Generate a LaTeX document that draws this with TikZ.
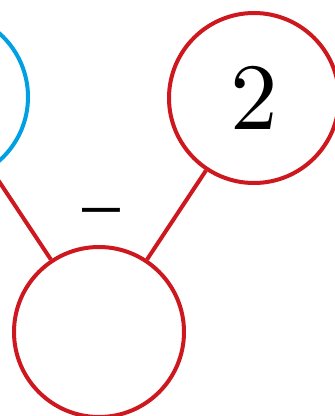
\documentclass[tikz,border=0pt]{standalone}
\definecolor{cred}{RGB}{204,24,30}
\definecolor{cblue}{RGB}{0,160,227}
\begin{document}
\begin{tikzpicture}[x=1pt,y=-1pt,
  circ/.style={circle,draw=cred,line width=4pt,minimum size=170pt,inner sep=0pt},
  bcirc/.style={circ,draw=cblue},
  edge/.style={draw=cred,line width=4pt}]
\useasboundingbox (0,0) rectangle (335,416);
\node[bcirc] (a) at (-57,97) {};
\node[circ] (b) at (254,98) {};
\node[scale=9.5] (bl) at (b) {2};
\node[circ] (c) at (99,332) {};
\path[edge] (a) -- (c);
\path[edge] (b) -- (c);
\node[xscale=6.6,yscale=11] (m) at (101,224) {\textbf{--}};
\end{tikzpicture}
\end{document}
